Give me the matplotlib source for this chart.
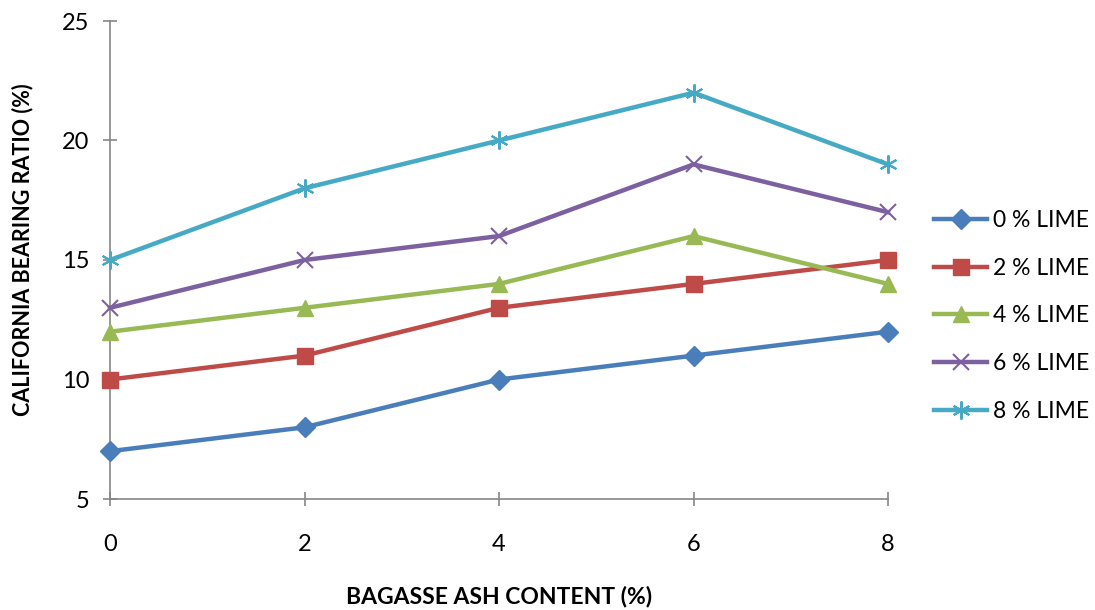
import matplotlib
matplotlib.use("Agg")
import matplotlib.pyplot as plt

plt.rcParams['font.family'] = ['Lato', 'DejaVu Sans']

x_vals = [0, 2, 4, 6, 8]
series_names = ["0 % LIME", "2 % LIME", "4 % LIME", "6 % LIME", "8 % LIME"]
lime0 = [7, 8, 10, 11, 12]
lime2 = [10, 11, 13, 14, 15]
lime4 = [12, 13, 14, 16, 14]
lime6 = [13, 15, 16, 19, 17]
lime8 = [15, 18, 20, 22, 19]
y_ticks = [5, 10, 15, 20, 25]
x_ticks = [0, 2, 4, 6, 8]

colors = ["#4A7EBB", "#BE4B48", "#98B954", "#7D60A0", "#46AAC5"]
markers = ["D", "s", "^", "x", (6, 2, 0)]
msizes = [10, 11, 12, 11, 13]

fig = plt.figure(figsize=(10.95, 6.10), dpi=100)
ax = fig.add_axes([110/1095, 1-499/610, (888-110)/1095, (499-21)/610])

for name, ys, c, m, ms in zip(series_names, [lime0, lime2, lime4, lime6, lime8], colors, markers, msizes):
    ax.plot(x_vals, ys, color=c, lw=3.2, marker=m, markersize=ms,
            markeredgewidth=1.5 if m in ("x",) or isinstance(m, tuple) else 1,
            markerfacecolor=c, markeredgecolor=c, label=name, clip_on=False, zorder=3)

ax.set_xlim(0, 8)
ax.set_ylim(5, 25)
ax.set_xticks(x_ticks)
ax.set_yticks(y_ticks)
for s in ["top", "right"]:
    ax.spines[s].set_visible(False)
for s in ["left", "bottom"]:
    ax.spines[s].set_color("#868686")
    ax.spines[s].set_linewidth(1.2)
ax.tick_params(axis='both', direction='inout', length=10, width=1.2, color="#868686",
               labelsize=17, labelcolor="black")
ax.tick_params(axis='y', pad=10)
ax.tick_params(axis='x', pad=20)

ax.set_xlabel("BAGASSE ASH CONTENT (%)", fontsize=16.5, fontweight='bold', labelpad=22)
ax.set_ylabel("CALIFORNIA BEARING RATIO (%)", fontsize=15.5, fontweight='bold')
ax.yaxis.set_label_coords(-0.099, 0.521)

leg = ax.legend(loc='center left', bbox_to_anchor=(925/1095, 294/610), bbox_transform=fig.transFigure,
                frameon=False, fontsize=16.5, handlelength=2.3, labelspacing=1.17, handletextpad=0.25,
                borderaxespad=0)

fig.savefig("out.png", dpi=100)
